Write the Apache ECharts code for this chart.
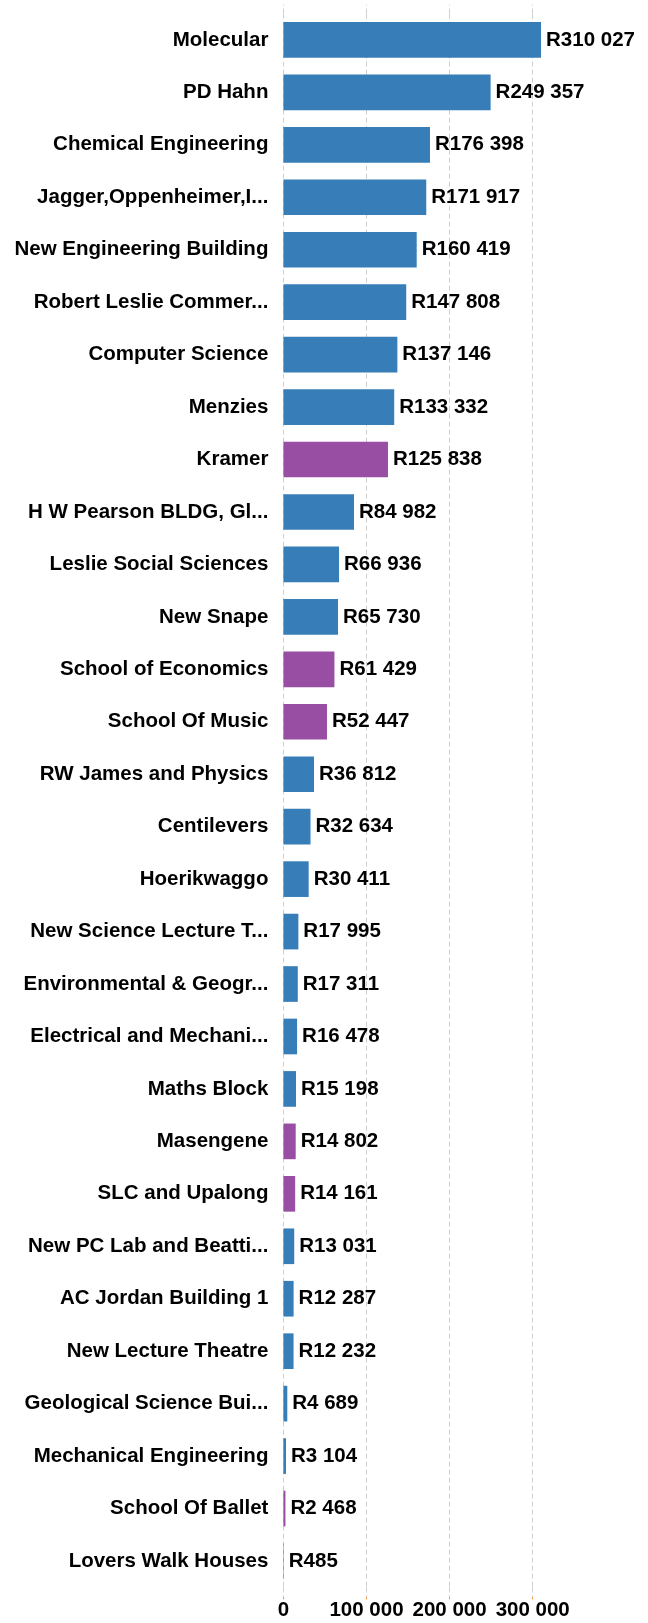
<!DOCTYPE html>
<html>
<head>
<meta charset="utf-8">
<script src="https://cdn.jsdelivr.net/npm/echarts@6/dist/echarts.min.js"></script>
<style>
    html, body { margin: 0; padding: 0; background: #fff; }
    #chart { width: 648px; height: 1623px; }
</style>
</head>
<body>
<div id="chart"></div>
<script>
const buildings = [
    'Molecular', 'PD Hahn', 'Chemical Engineering', 'Jagger,Oppenheimer,I...',
    'New Engineering Building', 'Robert Leslie Commer...', 'Computer Science', 'Menzies',
    'Kramer', 'H W Pearson BLDG, Gl...', 'Leslie Social Sciences', 'New Snape',
    'School of Economics', 'School Of Music', 'RW James and Physics', 'Centilevers',
    'Hoerikwaggo', 'New Science Lecture T...', 'Environmental & Geogr...', 'Electrical and Mechani...',
    'Maths Block', 'Masengene', 'SLC and Upalong', 'New PC Lab and Beatti...',
    'AC Jordan Building 1', 'New Lecture Theatre', 'Geological Science Bui...', 'Mechanical Engineering',
    'School Of Ballet', 'Lovers Walk Houses'
];
const costs = [
    310027, 249357, 176398, 171917,
    160419, 147808, 137146, 133332,
    125838, 84982, 66936, 65730,
    61429, 52447, 36812, 32634,
    30411, 17995, 17311, 16478,
    15198, 14802, 14161, 13031,
    12287, 12232, 4689, 3104,
    2468, 485
];
// which group each building belongs to (a = blue, b = purple)
const groups = [
    'a', 'a', 'a', 'a',
    'a', 'a', 'a', 'a',
    'b', 'a', 'a', 'a',
    'b', 'b', 'a', 'a',
    'a', 'a', 'a', 'a',
    'a', 'b', 'b', 'a',
    'a', 'a', 'a', 'a',
    'b', 'b'
];
const groupColors = { a: '#377eb8', b: '#984ea3' };
const xTicks = [0, 100000, 200000, 300000];

const font = "'Liberation Sans', Arial, sans-serif";

function rands(v) {
    return String(v).replace(/\B(?=(\d{3})+(?!\d))/g, ' ');
}

const chart = echarts.init(document.getElementById('chart'));

const axisBase = {
    type: 'value',
    min: xTicks[0],
    max: xTicks[xTicks.length - 1],
    interval: xTicks[1] - xTicks[0]
};
const grayDash = { color: '#cfcfcf', width: 1, type: [5, 3] };

chart.setOption({
    animation: false,
    grid: { left: 283.4, right: 115.3, top: 13.7, bottom: 35.8 },
    xAxis: [
        Object.assign({}, axisBase, {
            position: 'bottom',
            offset: 10,
            axisLine: { show: false },
            axisTick: { show: true, length: 2, lineStyle: { color: '#ff7f00', width: 1 } },
            axisLabel: {
                margin: 3,
                color: '#000',
                fontWeight: 'bold',
                fontSize: 20.5,
                fontFamily: font,
                formatter: v => rands(v)
            },
            splitLine: { show: false }
        }),
        Object.assign({}, axisBase, {
            position: 'bottom',
            axisLine: { show: false },
            axisTick: { show: true, length: 10, lineStyle: grayDash },
            axisLabel: { show: false },
            splitLine: { show: true, lineStyle: grayDash }
        }),
        Object.assign({}, axisBase, {
            position: 'top',
            axisLine: { show: false },
            axisTick: { show: true, length: 9, lineStyle: grayDash },
            axisLabel: { show: false },
            splitLine: { show: false }
        })
    ],
    yAxis: {
        type: 'category',
        inverse: true,
        data: buildings,
        axisLine: { show: false },
        axisTick: { show: false },
        axisLabel: {
            margin: 15,
            color: '#000',
            fontWeight: 'bold',
            fontSize: 20.5,
            fontFamily: font
        }
    },
    series: [{
        type: 'bar',
        xAxisIndex: 0,
        barWidth: '68%',
        clip: false,
        data: costs.map((v, i) => ({
            value: v,
            itemStyle: { color: groupColors[groups[i]] }
        })),
        label: {
            show: true,
            position: 'right',
            distance: 5,
            color: '#000',
            fontWeight: 'bold',
            fontSize: 20.5,
            fontFamily: font,
            formatter: p => 'R' + rands(p.value)
        }
    }]
});
</script>
</body>
</html>
